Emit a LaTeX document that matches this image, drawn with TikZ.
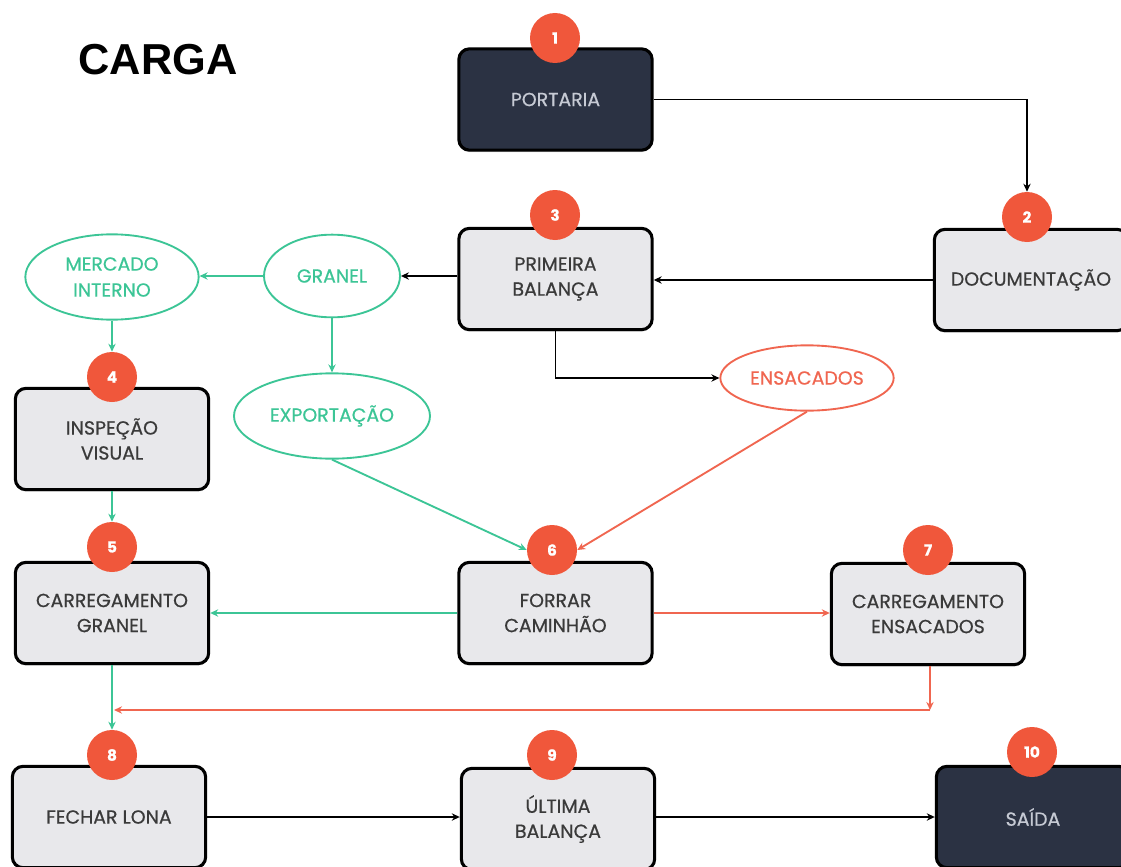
\documentclass[tikz,border=0pt]{standalone}
\usepackage{fontspec}
\setmainfont{Poppins}[FakeBold=0.6]
\newfontfamily\titlefont{Liberation Sans}
\usetikzlibrary{arrows.meta,shapes.geometric,shadows}
\definecolor{badgered}{HTML}{F0573B}
\definecolor{linered}{HTML}{F06650}
\definecolor{grn}{HTML}{3CC596}
\definecolor{boxgray}{HTML}{E8E8EB}
\definecolor{darkfill}{HTML}{2B3243}
\definecolor{darktext}{HTML}{C6CAD4}
\definecolor{boxtext}{HTML}{3A3A3A}
\tikzset{
  stepbox/.style={draw=black, line width=2.3pt, rounded corners=8pt, fill=boxgray,
    minimum width=145pt, minimum height=76pt, align=center, text=boxtext,
    font=\fontsize{14.2}{18.8}\selectfont, inner xsep=2pt,
    drop shadow={shadow xshift=0pt, shadow yshift=-1.5pt, opacity=0.35}},
  darkbox/.style={stepbox, fill=darkfill, text=darktext},
  badge/.style={circle, fill=badgered, minimum size=37.5pt, inner sep=0pt, text=white,
    font=\fontsize{11.5}{12}\selectfont\bfseries},
  oval/.style={ellipse, line width=1.4pt, fill=white, align=center, inner sep=0pt,
    font=\fontsize{14.2}{19.5}\selectfont},
  goval/.style={oval, draw=grn, text=grn},
  roval/.style={oval, draw=linered, text=linered},
  tip/.style={-{Stealth[length=6pt,width=5.5pt]}},
  blk/.style={tip, draw=black, line width=1.3pt},
  gline/.style={tip, draw=grn, line width=1.4pt},
  rline/.style={tip, draw=linered, line width=1.4pt},
}
\begin{document}
\begin{tikzpicture}[x=0.75pt,y=-0.75pt]
\useasboundingbox (0,0) rectangle (1121,867);
% title
\node (title) at (158,60) {\titlefont\bfseries\fontsize{32.5}{36}\selectfont CARGA};
% boxes
\node[darkbox] (portaria) at (555.5,99.5) {PORTARIA};
\node[stepbox] (doc) at (1031,280) {DOCUMENTAÇÃO};
\node[stepbox] (primeira) at (555.5,279) {PRIMEIRA\\BALANÇA};
\node[stepbox] (inspecao) at (112,439) {INSPEÇÃO\\VISUAL};
\node[stepbox] (cgranel) at (112,613) {CARREGAMENTO\\GRANEL};
\node[stepbox] (forrar) at (555.5,613) {FORRAR\\CAMINHÃO};
\node[stepbox] (censacados) at (928,614) {CARREGAMENTO\\ENSACADOS};
\node[stepbox] (fechar) at (109,817) {FECHAR LONA};
\node[stepbox] (ultima) at (558,819) {ÚLTIMA\\BALANÇA};
\node[darkbox] (saida) at (1033,817) {SAÍDA};
% ovals
\node[goval, minimum width=102pt, minimum height=62pt] (granel) at (332,276) {GRANEL};
\node[goval, minimum width=130pt, minimum height=64pt] (mercado) at (112,277) {MERCADO\\INTERNO};
\node[goval, minimum width=147pt, minimum height=64pt] (exportacao) at (332,416) {EXPORTAÇÃO};
\node[roval, minimum width=130pt, minimum height=49pt] (ensacados) at (807,378) {ENSACADOS};
% badges
\node[badge] (b1) at (555,38) {1};
\node[badge] (b2) at (1027,217) {2};
\node[badge] (b3) at (555,215) {3};
\node[badge] (b4) at (112,377) {4};
\node[badge] (b5) at (112,547) {5};
\node[badge] (b6) at (552,550) {6};
\node[badge] (b7) at (928,550) {7};
\node[badge] (b8) at (112,755) {8};
\node[badge] (b9) at (552,755) {9};
\node[badge] (b10) at (1032,752) {10};
% connectors
\draw[blk] (portaria.east) -| (b2.north);
\draw[blk] (doc.west) -- (doc.west -| primeira.east);
\draw[blk] (granel.east -| primeira.west) -- (granel.east);
\draw[gline] (granel.west) -- (granel.west -| mercado.east);
\draw[gline] (mercado.south) -- (b4.north);
\draw[gline] (granel.south) -- (exportacao.north);
\draw[blk] (primeira.south) |- (ensacados.west);
\draw[gline] (exportacao.south) -- (b6.west);
\draw[rline] (ensacados.south) -- (b6.east);
\draw[gline] (inspecao.south) -- (b5.north);
\draw[gline] (forrar.west) -- (cgranel.east);
\draw[rline] (forrar.east) -- (forrar.east -| censacados.west);
\draw[gline] (cgranel.south) -- (b8.north);
\coordinate (c1) at (930,710);
\coordinate (c2) at (114,710);
\draw[rline] (censacados.south -| c1) -- (c1);
\draw[rline, line width=2pt] (c1) -- (c2);
\draw[blk] (fechar.east) -- (fechar.east -| ultima.west);
\draw[blk] (ultima.east |- saida.west) -- (saida.west);
\end{tikzpicture}
\end{document}
